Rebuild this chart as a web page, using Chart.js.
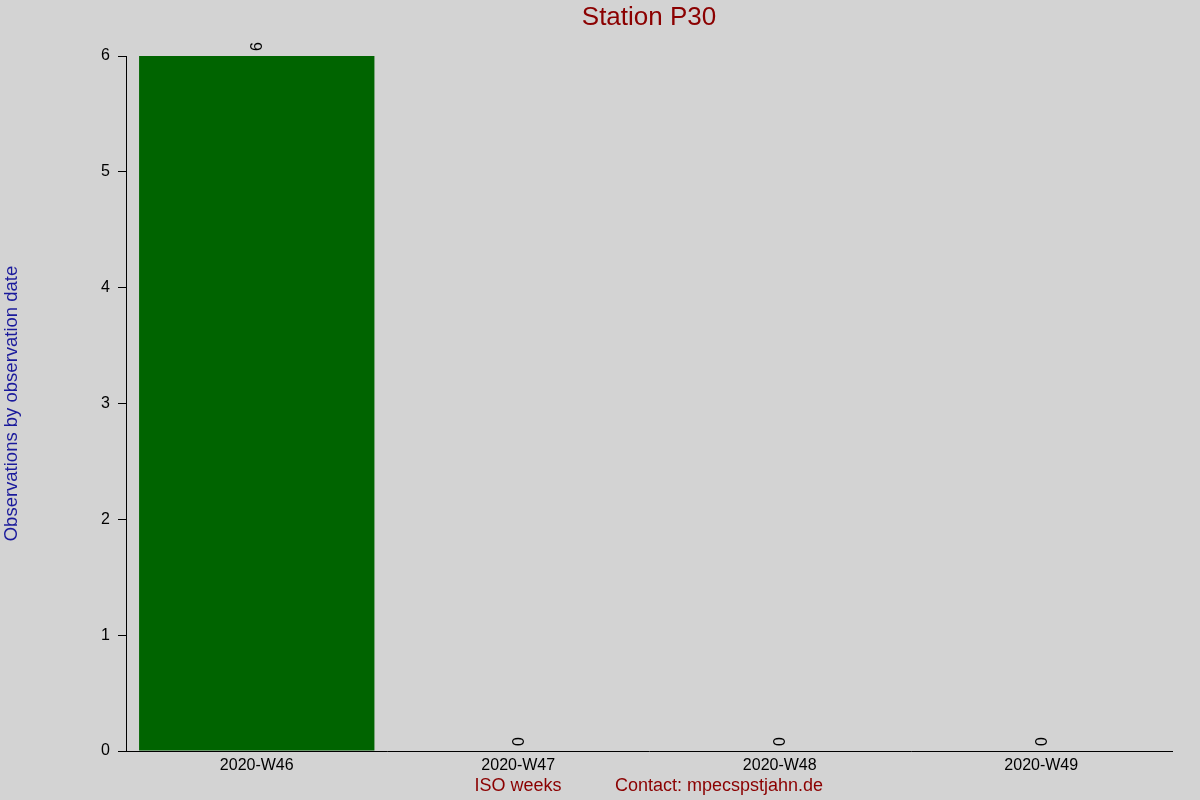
<!DOCTYPE html>
<html>
<head>
<meta charset="utf-8">
<script src="https://cdn.jsdelivr.net/npm/chart.js@4/dist/chart.umd.min.js"></script>
<style>
html,body{margin:0;padding:0;background:#d3d3d3;}
#wrap{width:1200px;height:800px;}
</style>
</head>
<body>
<div id="wrap"><canvas id="c" width="1200" height="800"></canvas></div>
<script>
const categories = ["2020-W46", "2020-W47", "2020-W48", "2020-W49"];
const observations = [6, 0, 0, 0];
const yTicks = [0, 1, 2, 3, 4, 5, 6];
const chartTitle = "Station P30";
const yTitle = "Observations by observation date";
const xTitle = "ISO weeks";
const contactText = "Contact: mpecspstjahn.de";

const FONT = "'Liberation Sans', Arial, sans-serif";

const bgPlugin = {
  id: 'bg',
  beforeDraw(chart) {
    const ctx = chart.ctx;
    ctx.save();
    ctx.fillStyle = '#d3d3d3';
    ctx.fillRect(0, 0, chart.width, chart.height);
    ctx.restore();
  }
};

const textPlugin = {
  id: 'texts',
  afterDraw(chart) {
    const ctx = chart.ctx;
    const ca = chart.chartArea;
    ctx.save();
    // Title
    ctx.fillStyle = '#8b0000';
    ctx.font = '26px ' + FONT;
    ctx.textAlign = 'center';
    ctx.textBaseline = 'middle';
    ctx.fillText(chartTitle, (ca.left + ca.right) / 2, 18);
    // Y title
    ctx.save();
    ctx.translate(12, (ca.top + ca.bottom) / 2);
    ctx.rotate(-Math.PI / 2);
    ctx.fillStyle = '#1a1a9c';
    ctx.font = '18.5px ' + FONT;
    ctx.fillText(yTitle, 0, 0);
    ctx.restore();
    // X titles
    ctx.font = '18px ' + FONT;
    ctx.fillStyle = '#8b0000';
    ctx.textAlign = 'center';
    ctx.fillText(xTitle, 518, 786);
    ctx.fillText(contactText, 719, 786);
    // data labels
    const meta = chart.getDatasetMeta(0);
    ctx.fillStyle = '#000000';
    ctx.font = '16px ' + FONT;
    meta.data.forEach((bar, i) => {
      ctx.save();
      ctx.translate(bar.x + 1, bar.y - 5);
      ctx.rotate(-Math.PI / 2);
      ctx.textAlign = 'left';
      ctx.textBaseline = 'middle';
      ctx.fillText(String(observations[i]), 0, 0);
      ctx.restore();
    });
    ctx.restore();
  }
};

new Chart(document.getElementById('c'), {
  type: 'bar',
  data: {
    labels: categories,
    datasets: [{
      data: observations,
      backgroundColor: '#006400',
      borderWidth: 0,
      barPercentage: 0.9,
      categoryPercentage: 1.0
    }]
  },
  options: {
    responsive: false,
    devicePixelRatio: 1,
    animation: false,
    layout: { padding: { top: 56, right: 28, left: 0, bottom: 0 } },
    plugins: {
      legend: { display: false },
      title: { display: false },
      tooltip: { enabled: false }
    },
    scales: {
      x: {
        grid: { display: false, drawTicks: false },
        border: { display: true, color: '#000000', width: 1 },
        ticks: { color: '#000000', font: { size: 16, family: FONT }, padding: 5, maxRotation: 0 },
        afterFit(scale) { scale.height = 49; }
      },
      y: {
        min: 0,
        max: 6,
        afterBuildTicks(scale) { scale.ticks = yTicks.map(v => ({ value: v })); },
        grid: { drawOnChartArea: false, drawTicks: true, tickLength: 8, color: '#000000' },
        border: { display: true, color: '#000000', width: 1 },
        ticks: { color: '#000000', font: { size: 16, family: FONT }, padding: 8 },
        afterFit(scale) { scale.width = 126; }
      }
    }
  },
  plugins: [bgPlugin, textPlugin]
});
</script>
</body>
</html>
